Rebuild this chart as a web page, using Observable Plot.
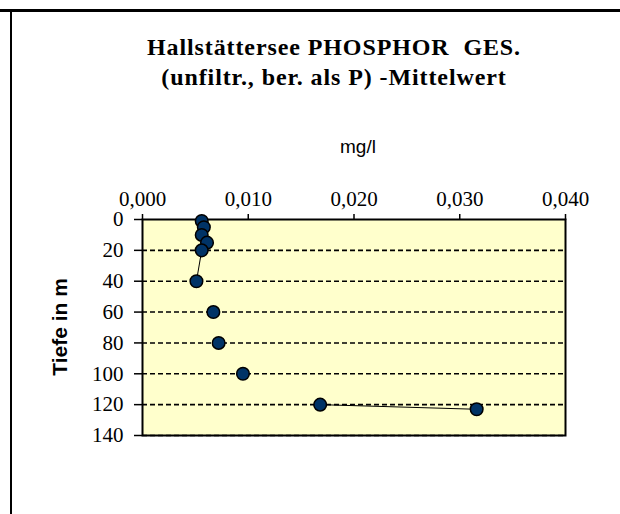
<!DOCTYPE html>
<html>
<head>
<meta charset="utf-8">
<script src="https://cdn.jsdelivr.net/npm/d3@7"></script>
<script src="https://cdn.jsdelivr.net/npm/@observablehq/plot@0.6"></script>
<style>
  html, body { margin: 0; padding: 0; background: #fff; overflow: hidden; }
  #wrap { position: relative; width: 620px; height: 514px; overflow: hidden; }
  #lineTop { position: absolute; left: 0; top: 9px; width: 620px; height: 3px; background: #000; }
  #lineLeft { position: absolute; left: 10px; top: 9px; width: 2px; height: 505px; background: #000; }
  .title { position: absolute; left: 0; width: 668px; text-align: center; font-family: "Liberation Serif", serif; font-weight: bold; font-size: 24px; line-height: 28px; letter-spacing: 0.9px; white-space: pre; color: #000; }
  #unit { position: absolute; left: 258px; width: 200px; text-align: center; top: 136px; font-family: "Liberation Sans", Arial, sans-serif; font-size: 19px; line-height: 22px; }
  #ylab { position: absolute; left: 60px; top: 327px; transform: translate(-50%, -50%) rotate(-90deg); font-family: "Liberation Sans", Arial, sans-serif; font-weight: bold; font-size: 21px; white-space: nowrap; }
  #chart svg { position: absolute; left: 0; top: 0; }
</style>
</head>
<body>
<div id="wrap">
  <div id="lineTop"></div>
  <div id="lineLeft"></div>
  <div id="chart"></div>
  <div class="title" style="top:33px">Hallstättersee PHOSPHOR  GES.</div>
  <div class="title" style="top:63px">(unfiltr., ber. als P) -Mittelwert</div>
  <div id="unit">mg/l</div>
  <div id="ylab">Tiefe in m</div>
</div>
<script>
const depth    = [1, 5, 10, 15, 20, 40, 60, 80, 100, 120, 123];
const phosphor = [0.0056, 0.0058, 0.0056, 0.0061, 0.0056, 0.0051, 0.0067, 0.0072, 0.0095, 0.0168, 0.0316];
const segment  = ["a", "a", "a", "a", "a", "a", "b", "c", "d", "e", "e"];
const xTicks = [0, 0.01, 0.02, 0.03, 0.04];
const yTicks = [0, 20, 40, 60, 80, 100, 120, 140];
const gridY  = [20, 40, 60, 80, 100, 120, 140];

const data = depth.map((d, i) => ({depth: d, p: phosphor[i], seg: segment[i]}));

const chart = Plot.plot({
  width: 620,
  height: 514,
  marginTop: 219,
  marginLeft: 142,
  marginRight: 55,
  marginBottom: 79,
  style: {fontFamily: "Liberation Serif, serif", fontSize: "21px", background: "transparent", color: "#000"},
  x: {domain: [0, 0.04]},
  y: {domain: [0, 140], reverse: true},
  marks: [
    Plot.frame({fill: "#FFFFCC", stroke: null}),
    Plot.ruleY(gridY, {stroke: "#000", strokeWidth: 1.6, strokeDasharray: "5,3"}),
    Plot.frame({stroke: "#000", strokeWidth: 2}),
    Plot.axisX({anchor: "top", ticks: xTicks, tickSize: 6, tickPadding: 8, fontSize: 21,
      fontFamily: "Liberation Serif, serif", fill: "#000",
      tickFormat: d => d.toFixed(3).replace(".", ","), label: null, stroke: "#000", strokeWidth: 1.5}),
    Plot.axisY({anchor: "left", ticks: yTicks, tickSize: 8, tickPadding: 11, fontSize: 21,
      fontFamily: "Liberation Serif, serif", fill: "#000",
      tickFormat: d => String(d), label: null, stroke: "#000", strokeWidth: 1.5}),
    Plot.line(data, {x: "p", y: "depth", z: "seg", stroke: "#000", strokeWidth: 1}),
    Plot.dot(data, {x: "p", y: "depth", r: 6.3, fill: "#003366", stroke: "#000", strokeWidth: 1.5})
  ]
});
document.getElementById("chart").appendChild(chart);
</script>
</body>
</html>
